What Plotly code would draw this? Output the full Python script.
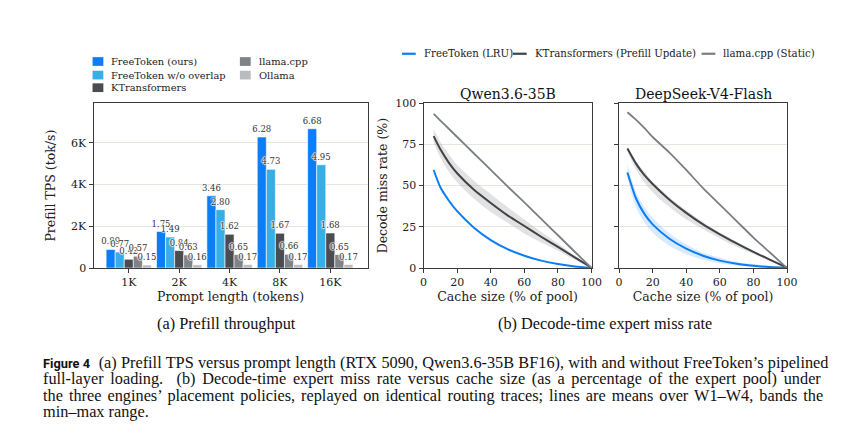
"""Figure 4: prefill throughput bars and decode-time expert miss-rate curves."""

import plotly.graph_objects as go

# the page body keeps its default 8px margin on every side, so the figure
# is drawn smaller and layout positions are offset by that margin
WIN_W, WIN_H, BODY = 862, 445, 8
W, H = WIN_W - 2 * BODY, WIN_H - 2 * BODY

# ------------------------------------------------------------------ #
# Data                                                                 #
# ------------------------------------------------------------------ #
prompt_lengths = ["1K", "2K", "4K", "8K", "16K"]
bar_series = [
    "FreeToken (ours)",
    "FreeToken w/o overlap",
    "KTransformers",
    "llama.cpp",
    "Ollama",
]
# prefill throughput, tok/s
tps_freetoken = [890, 1750, 3460, 6280, 6680]
tps_no_overlap = [770, 1490, 2800, 4730, 4950]
tps_ktransformers = [420, 840, 1620, 1670, 1680]
tps_llamacpp = [570, 630, 650, 660, 650]
tps_ollama = [150, 160, 170, 170, 170]
bar_colors = ["#0b7ef7", "#38aee6", "#4a4c51", "#7f8286", "#b9bbbe"]

# decode miss rate (%) vs cache size (% of expert pool)
cache_qwen = [6, 10, 15, 20, 30, 40, 50, 60, 70, 80, 90, 100]
ft_qwen = [59.5, 49, 41, 34.5, 24.5, 17, 11.5, 7.5, 4.5, 2.4, 1.0, 0.2]
ft_qwen_lo = [59, 48.3, 40.3, 33.8, 24, 16.5, 11, 7.1, 4.2, 2.1, 0.8, 0]
ft_qwen_hi = [60.3, 49.8, 41.8, 35.3, 25.1, 17.6, 12, 7.9, 4.8, 2.7, 1.2, 0.3]
kt_qwen = [80, 72, 64, 57.5, 47.5, 39.5, 32, 25.5, 19, 12.8, 6.5, 0.3]
kt_qwen_lo = [76, 67, 58.5, 52, 42, 34, 27.5, 21, 15.5, 10.5, 5, 0]
kt_qwen_hi = [84, 76.5, 69, 62.5, 53, 45, 37, 29.5, 22, 15, 7.5, 0.5]
llama_qwen = [93.5, 89.5, 84.5, 79.5, 69.5, 59.5, 49.5, 39.8, 29.8, 19.9, 9.9, 0]

cache_ds = [5, 10, 15, 20, 30, 40, 50, 60, 70, 80, 90, 100]
ft_ds = [58, 42.5, 33, 26.5, 17.8, 11.8, 7.5, 4.5, 2.6, 1.4, 0.6, 0.1]
ft_ds_lo = [55, 37, 28, 21.5, 13.5, 8.5, 5, 2.8, 1.5, 0.6, 0.2, 0]
ft_ds_hi = [62.5, 46.5, 37, 30.5, 21, 14.5, 9.5, 6.3, 3.8, 2.5, 1.2, 0.3]
kt_ds = [72.5, 63.5, 56.5, 51, 41.5, 33.5, 26.5, 20.5, 15, 9.8, 5, 0.3]
kt_ds_lo = [70.5, 60, 52, 46, 37, 29.5, 23.5, 18, 13, 8.5, 4.2, 0]
kt_ds_hi = [73.5, 65, 58.5, 52.5, 43, 35, 28, 21.5, 16, 10.5, 5.5, 0.5]
llama_ds = [94.5, 90, 85, 79.5, 70, 59.5, 48.5, 38.5, 28.5, 18.5, 9.3, 0]

line_series = [
    "FreeToken (LRU)",
    "KTransformers (Prefill Update)",
    "llama.cpp (Static)",
]
line_colors = ["#0b7ef7", "#3f4247", "#7b7e83"]
band_colors = ["rgba(11,126,247,0.16)", "rgba(150,150,156,0.28)"]

panel_titles = ["Qwen3.6-35B", "DeepSeek-V4-Flash"]

SERIF = "DejaVu Serif"
TXT = "#222222"
AX = "#3a3a3a"
GRID = "#e6e6df"


def px(x):
    """Window pixel x -> paper fraction."""
    return (x - BODY) / W


def py(y):
    """Window pixel y (from top) -> paper fraction."""
    return 1 - (y - BODY) / H


fig = go.Figure()

# ------------------------------------------------------------------ #
# (a) Prefill throughput                                               #
# ------------------------------------------------------------------ #
halo = "1px 0 1px #fff, -1px 0 1px #fff, 0 1px 1px #fff, 0 -1px 1px #fff"
for name, vals, col in zip(
    bar_series,
    [tps_freetoken, tps_no_overlap, tps_ktransformers, tps_llamacpp,
     tps_ollama],
    bar_colors,
):
    fig.add_trace(go.Bar(
        x=prompt_lengths, y=vals, name=name,
        marker=dict(color=col, line=dict(color="white", width=0.6)),
        text=[f"{v / 1000:.2f}" for v in vals],
        textposition="outside", constraintext="none", cliponaxis=False,
        textfont=dict(family=SERIF, size=8.5, color="#333", shadow=halo),
        showlegend=False, xaxis="x", yaxis="y",
    ))

# ------------------------------------------------------------------ #
# (b) Decode-time expert miss rate                                     #
# ------------------------------------------------------------------ #
panels = [
    ("x2", "y2", cache_qwen, [ft_qwen, kt_qwen, llama_qwen],
     [(ft_qwen_lo, ft_qwen_hi), (kt_qwen_lo, kt_qwen_hi)]),
    ("x3", "y3", cache_ds, [ft_ds, kt_ds, llama_ds],
     [(ft_ds_lo, ft_ds_hi), (kt_ds_lo, kt_ds_hi)]),
]
for xa, ya, xs, means, bands in panels:
    for (lo, hi), fc in zip(bands, band_colors):
        fig.add_trace(go.Scatter(
            x=xs + xs[::-1], y=hi + lo[::-1], fill="toself", fillcolor=fc,
            line=dict(width=0, shape="spline"), mode="lines",
            hoverinfo="skip", showlegend=False, xaxis=xa, yaxis=ya,
        ))
    for name, ys, col in zip(line_series, means, line_colors):
        fig.add_trace(go.Scatter(
            x=xs, y=ys, name=name, mode="lines",
            line=dict(color=col, width=2 if col != line_colors[2] else 1.8,
                      shape="spline", smoothing=0.6),
            showlegend=False, xaxis=xa, yaxis=ya,
        ))

# ------------------------------------------------------------------ #
# Axes                                                                 #
# ------------------------------------------------------------------ #
y_dom = [py(270), py(100)]
common = dict(showline=True, mirror=True, linecolor=AX, linewidth=1,
              ticks="outside", ticklen=4, tickcolor=AX, zeroline=False,
              tickfont=dict(family=SERIF, size=11, color=TXT))
title_font = dict(family=SERIF, size=12.5, color=TXT)

fig.update_layout(
    xaxis=dict(domain=[px(91), px(370)], range=[-0.7, 4.74],
               type="category", showgrid=False,
               title=dict(text="Prompt length (tokens)", font=title_font,
                          standoff=3),
               **common),
    yaxis=dict(domain=y_dom, range=[0, 7900],
               tickvals=[0, 2000, 4000, 6000],
               ticktext=["0", "2K", "4K", "6K"],
               showgrid=True, gridcolor=GRID,
               title=dict(text="Prefill TPS (tok/s)", font=title_font,
                          standoff=12),
               **common),
    xaxis2=dict(domain=[px(427), px(598)], range=[0, 100], anchor="y2",
                tickvals=[0, 20, 40, 60, 80, 100], showgrid=False,
                title=dict(text="Cache size (% of pool)", font=title_font,
                           standoff=3),
                **common),
    yaxis2=dict(domain=y_dom, range=[0, 100], anchor="x2",
                tickvals=[0, 25, 50, 75, 100], showgrid=True,
                gridcolor=GRID,
                title=dict(text="Decode miss rate (%)", font=title_font,
                           standoff=4),
                **common),
    xaxis3=dict(domain=[px(626), px(797)], range=[0, 100], anchor="y3",
                tickvals=[0, 20, 40, 60, 80, 100], showgrid=False,
                title=dict(text="Cache size (% of pool)", font=title_font,
                           standoff=3),
                **common),
    yaxis3=dict(domain=y_dom, range=[0, 100], anchor="x3",
                tickvals=[0, 25, 50, 75, 100], showgrid=True,
                gridcolor=GRID, showticklabels=False, **common),
    barmode="group", bargap=0.1, bargroupgap=0,
    width=W, height=H, autosize=False,
    margin=dict(l=0, r=0, t=0, b=0),
    paper_bgcolor="white", plot_bgcolor="white",
    font=dict(family=SERIF, color=TXT),
)

# ------------------------------------------------------------------ #
# Legends (drawn by hand to keep the compact matplotlib spacing)       #
# ------------------------------------------------------------------ #
shapes, notes = [], []
bar_leg_font = dict(family=SERIF, size=9.9, color=TXT)
line_leg_font = dict(family=SERIF, size=10.2, color=TXT)
bar_leg_pos = [(90, 57), (90, 71), (90, 84), (240, 57), (240, 71)]
for name, col, (lx, ly) in zip(bar_series, bar_colors, bar_leg_pos):
    shapes.append(dict(type="rect", xref="paper", yref="paper",
                       x0=px(lx), x1=px(lx + 11), y0=py(ly + 4.5),
                       y1=py(ly - 4.5), fillcolor=col, line_width=0))
    notes.append(dict(text=name, x=px(lx + 17), y=py(ly), xanchor="left",
                      yanchor="middle", font=bar_leg_font))

line_leg_pos = [405, 518, 710]
for name, col, lx in zip(line_series, line_colors, line_leg_pos):
    shapes.append(dict(type="line", xref="paper", yref="paper",
                       x0=px(lx), x1=px(lx + 14), y0=py(49), y1=py(49),
                       line=dict(color=col, width=2.2)))
    notes.append(dict(text=name, x=px(lx + 20), y=py(49), xanchor="left",
                      yanchor="middle", font=line_leg_font))

# subplot titles
for t, cx in zip(panel_titles, [512.5, 711.5]):
    notes.append(dict(text=t, x=px(cx), y=py(90), xanchor="center",
                      yanchor="middle",
                      font=dict(family=SERIF, size=14, color="#111")))

# sub-captions
cap_font = dict(family="Liberation Serif", size=16.3, color="#111")
notes.append(dict(text="(a) Prefill throughput", x=px(226), y=py(327),
                  xanchor="center", yanchor="middle", font=cap_font))
notes.append(dict(text="(b) Decode-time expert miss rate", x=px(612),
                  y=py(327), xanchor="center", yanchor="middle",
                  font=cap_font))

# figure caption; word spacing stands in for LaTeX justification
caption_lines = [
    ("<span style='font-family:Roboto;font-weight:bold;font-size:12.8px'>"
     "Figure 4</span>&nbsp; (a) Prefill TPS versus prompt length (RTX 5090, "
     "Qwen3.6-35B BF16), with and without FreeToken’s pipelined", 0.2),
    ("full-layer loading.&nbsp; (b) Decode-time expert miss rate versus "
     "cache size (as a percentage of the expert pool) under", 2.6),
    ("the three engines’ placement policies, replayed on identical routing "
     "traces; lines are means over W1–W4, bands the", 1.95),
    ("min–max range.", 0),
]
for i, (line, ws) in enumerate(caption_lines):
    notes.append(dict(
        text=f"<span style='word-spacing:{ws}px'>{line}</span>",
        x=px(38), y=py(367 + 17 * i), xanchor="left", yanchor="middle",
        font=cap_font))

for n in notes:
    n.update(xref="paper", yref="paper", showarrow=False)
fig.update_layout(shapes=shapes, annotations=notes)

fig.write_html("out.html")
